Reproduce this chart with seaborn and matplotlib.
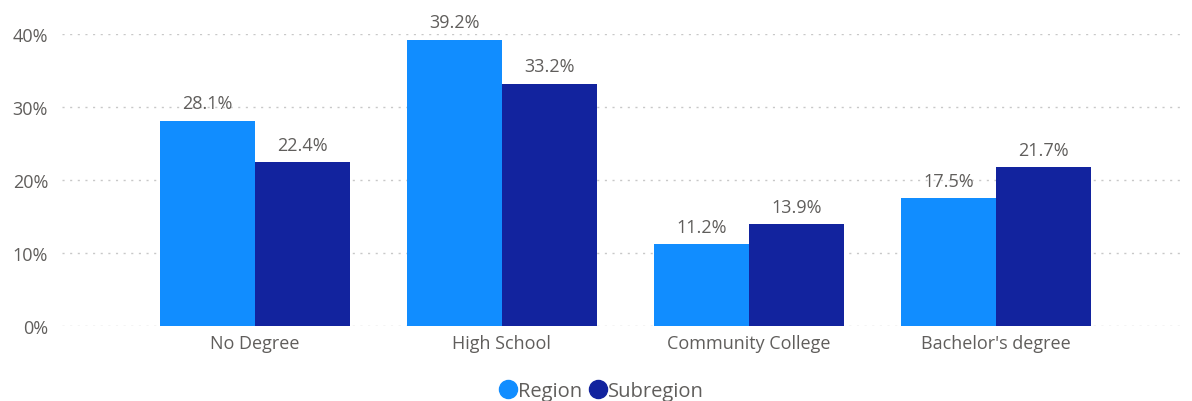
import matplotlib
matplotlib.use("Agg")
import matplotlib.pyplot as plt
import seaborn as sns
import pandas as pd
from matplotlib.lines import Line2D

categories = ["No Degree", "High School", "Community College", "Bachelor's degree"]
region = [28.1, 39.2, 11.2, 17.5]
subregion = [22.4, 33.2, 13.9, 21.7]
series_names = ["Region", "Subregion"]
colors = ["#118DFF", "#12239E"]
yticks = [0, 10, 20, 30, 40]

df = pd.DataFrame({
    "category": categories * 2,
    "value": region + subregion,
    "series": [series_names[0]] * len(categories) + [series_names[1]] * len(categories),
})

sns.set_theme(style="white")
plt.rcParams["font.family"] = ["Open Sans", "DejaVu Sans"]
text_color = "#605E5C"

fig = plt.figure(figsize=(11.92, 4.02), dpi=100)
ax = fig.add_axes([0.052, 0.187, 0.942, 0.726])

sns.barplot(data=df, x="category", y="value", hue="series", order=categories,
            hue_order=series_names, palette=colors, width=0.77, ax=ax,
            linewidth=0, saturation=1, legend=False)

ax.set_ylim(0, 40)
ax.set_xlim(-0.781, 3.765)
ax.set_yticks(yticks)
ax.set_yticklabels([f"{t}%" for t in yticks])
ax.set_xlabel("")
ax.set_ylabel("")
for s in ax.spines.values():
    s.set_visible(False)
ax.tick_params(axis="y", length=0, labelsize=13, colors=text_color, pad=10)
ax.tick_params(axis="x", length=0, labelsize=13, colors=text_color, pad=6)
ax.yaxis.grid(True, color="#C8C8C8", linestyle=(0, (1.5, 4)), linewidth=1)
ax.set_axisbelow(True)

for cont in ax.containers:
    ax.bar_label(cont, labels=[f"{v:.1f}%" for v in cont.datavalues], padding=6,
                 fontsize=13, color=text_color, clip_on=False)

handles = [Line2D([0], [0], marker="o", linestyle="", markersize=13,
                  markerfacecolor=c, markeredgecolor=c) for c in colors]
fig.legend(handles, series_names, loc="center", bbox_to_anchor=(0.504, 0.025),
           ncol=2, frameon=False, fontsize=14.5, handletextpad=0.0,
           columnspacing=0.3, labelcolor=text_color, handlelength=1.0)

fig.savefig("out.png", dpi=100)
